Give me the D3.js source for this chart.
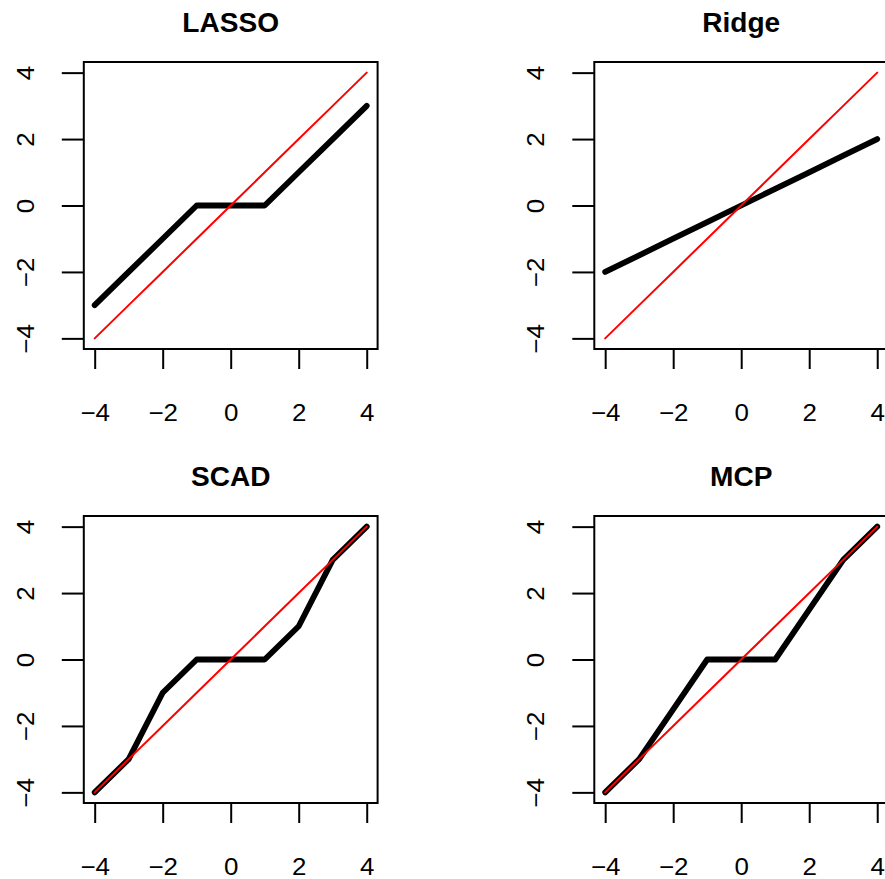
<!DOCTYPE html>
<html>
<head>
<meta charset="utf-8">
<script src="https://cdn.jsdelivr.net/npm/d3@7"></script>
<style>
  html, body { margin: 0; padding: 0; background: #fff; }
  svg { display: block; }
</style>
</head>
<body>
<svg id="chart" width="885" height="879"></svg>
<script>
// ---- data ----
const xValues     = [-4, -3, -2, -1, 0, 1, 2, 3, 4];
const lassoValues = [-3, -2, -1, 0, 0, 0, 1, 2, 3];
const ridgeValues = [-2, -1.5, -1, -0.5, 0, 0.5, 1, 1.5, 2];
const scadValues  = [-4, -3, -1, 0, 0, 0, 1, 3, 4];
const mcpValues   = [-4, -3, -1.5, 0, 0, 0, 1.5, 3, 4];
const identityValues = [-4, -3, -2, -1, 0, 1, 2, 3, 4];
const panelTitles = ["LASSO", "Ridge", "SCAD", "MCP"];
const tickValues  = [-4, -2, 0, 2, 4];

const panelSeries = [lassoValues, ridgeValues, scadValues, mcpValues];

// ---- layout ----
const colLeft = [83.8, 594.3];
const boxW = 293.8;
const rowTop = [62, 516];
const boxH = 287;
const ext = 0.04 * 8; // R's 4% axis extension

const svg = d3.select("#chart");
const fmt = v => (v < 0 ? "\u2212" + Math.abs(v) : String(v));
const fontFam = "'Liberation Sans', Arial, Helvetica, sans-serif";

panelTitles.forEach((title, i) => {
  const col = i % 2, row = Math.floor(i / 2);
  const x0 = colLeft[col], y0 = rowTop[row];
  const x = d3.scaleLinear().domain([-4 - ext, 4 + ext]).range([x0, x0 + boxW]);
  const y = d3.scaleLinear().domain([-4 - ext, 4 + ext]).range([y0 + boxH, y0]);
  const g = svg.append("g");

  // x axis
  const xa = g.append("g").attr("transform", `translate(0,${y0 + boxH})`)
    .call(d3.axisBottom(x).tickValues(tickValues).tickSize(20).tickFormat(fmt));
  // y axis
  const ya = g.append("g").attr("transform", `translate(${x0},0)`)
    .call(d3.axisLeft(y).tickValues(tickValues).tickSize(22).tickFormat(fmt));

  [xa, ya].forEach(a => {
    a.select(".domain").remove();
    a.selectAll(".tick line").attr("stroke", "#000").attr("stroke-width", 2);
    a.selectAll("text").attr("font-family", fontFam).attr("font-size", 24).attr("fill", "#000");
  });
  xa.selectAll(".tick text").attr("y", null).attr("dy", null)
    .attr("transform", "translate(0,72) scale(1.08,1)");
  ya.selectAll(".tick text")
    .attr("text-anchor", "middle")
    .attr("dy", null)
    .attr("x", null)
    .attr("transform", "translate(-50,0) rotate(-90) scale(1.08,1)");

  // series
  const line = d3.line().x((d, k) => x(xValues[k])).y(d => y(d));
  g.append("path").datum(panelSeries[i]).attr("d", line)
    .attr("fill", "none").attr("stroke", "#000").attr("stroke-width", 5.8)
    .attr("stroke-linejoin", "round").attr("stroke-linecap", "round");
  g.append("path").datum(identityValues).attr("d", line)
    .attr("fill", "none").attr("stroke", "#ff0000").attr("stroke-width", 2)
    .attr("stroke-linecap", "round");

  // box
  g.append("rect").attr("x", x0).attr("y", y0).attr("width", boxW).attr("height", boxH)
    .attr("fill", "none").attr("stroke", "#000").attr("stroke-width", 2);

  // title
  g.append("text")
    .attr("transform", `translate(${x0 + boxW / 2},${row === 0 ? 32 : 486}) scale(1.04,1)`)
    .attr("text-anchor", "middle").attr("font-family", fontFam)
    .attr("font-weight", "bold").attr("font-size", 27).text(title);
});
</script>
</body>
</html>
